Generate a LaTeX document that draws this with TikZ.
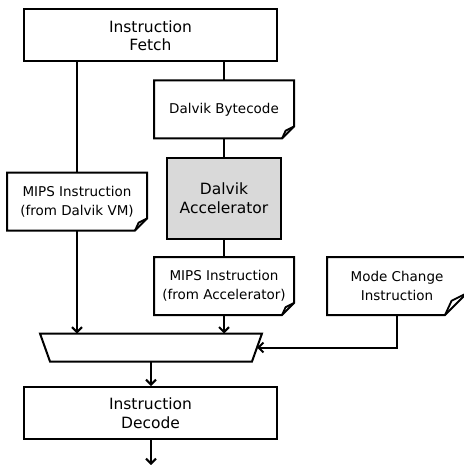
\documentclass[tikz,border=0pt]{standalone}
\usepackage{fontspec}
\setmainfont{DejaVu Sans}
\usepackage{tikz}
\usetikzlibrary{arrows.meta}
\tikzset{Pipeline/.style = {
		x=1pt, y=-1pt,
		every node/.style = {draw, line width=2pt, align=center, inner sep=0pt},
		stage/.style = {rectangle, minimum width=253pt, minimum height=52pt,
			font=\fontsize{15.5}{18.5}\selectfont},
		accel/.style = {rectangle, fill=gray!30, minimum width=114pt, minimum height=80pt,
			font=\fontsize{15.5}{19}\selectfont},
		note/.style = {draw=none, minimum width=138pt, minimum height=56pt,
			font=\fontsize{13.5}{19}\selectfont},
		mux/.style = {draw=none, rectangle, minimum width=220pt, minimum height=26pt},
		noteline/.style = {line width=2pt, line join=miter},
		flap/.style = {line width=1.8pt, line join=round},
		link/.style = {line width=2pt},
		flow/.style = {line width=2pt, -{Straight Barb[length=5pt,width=10pt]}}
	}% end of Pipeline style
}
\begin{document}
\begin{tikzpicture}[Pipeline]
  \useasboundingbox (0,0) rectangle (463,465);

  \node[stage] (IF) at (150.5,35.5) {Instruction\\Fetch};
  \node[note] (DB) at (224,109.5) {Dalvik Bytecode};
  \node[accel] (DA) at (224,198.5) {Dalvik\\Accelerator};
  \node[note] (MV) at (77,201.5) {MIPS Instruction\\(from Dalvik VM)};
  \node[note] (MA) at (224,286) {MIPS Instruction\\(from Accelerator)};
  \node[note] (MC) at (397,286) {Mode Change\\Instruction};
  \node[mux] (MUX) at (151,347.5) {};
  \node[stage] (ID) at (150.5,413) {Instruction\\Decode};
  \coordinate (out) at (151,465);

  % note outlines with folded corner
  \foreach \n/\c in {DB/12,MV/12,MA/12,MC/22} {
    \draw[noteline] (\n.north west) -- (\n.north east) -- ([yshift=\c pt]\n.south east)
      -- ([xshift=-\c pt]\n.south east) -- (\n.south west) -- cycle;
    \draw[flap] ([xshift=-\c pt]\n.south east) -- ([xshift=-0.7*\c pt,yshift=0.65*\c pt]\n.south east)
      -- ([yshift=\c pt]\n.south east);
  }

  % multiplexer outline
  \draw[noteline] (MUX.north west) -- (MUX.north east) -- ([xshift=-10pt]MUX.south east)
    -- ([xshift=10pt]MUX.south west) -- cycle;

  \draw[link] (IF.south -| DB) -- (DB.north);
  \draw[link] (DB.south) -- (DA.north);
  \draw[link] (DA.south) -- (MA.north);
  \draw[link] (IF.south -| MV) -- (MV.north);
  \draw[flow] (MV.south) -- (MV |- MUX.north);
  \draw[flow] (MA.south) -- (MA |- MUX.north);
  \draw[flow] (MC.south) |- ([xshift=-5pt]MUX.east);
  \draw[flow] (MUX.south) -- (MUX.south |- ID.north);
  \draw[flow] (ID.south -| out) -- (out);
\end{tikzpicture}
\end{document}
